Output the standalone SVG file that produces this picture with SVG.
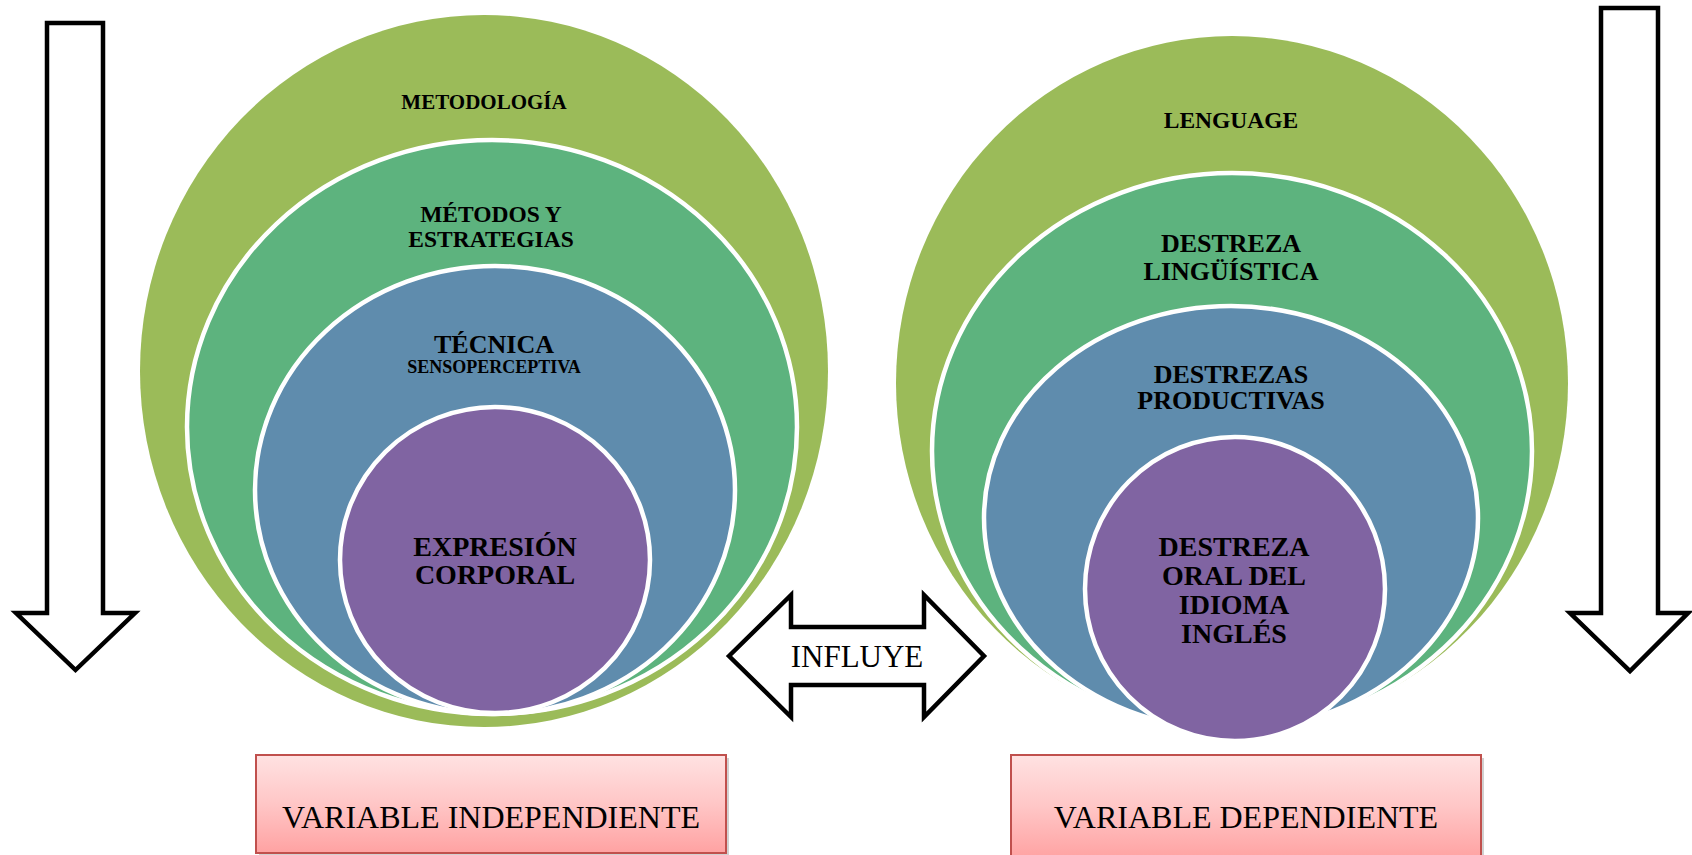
<svg xmlns="http://www.w3.org/2000/svg" width="1692" height="855" viewBox="0 0 1692 855">
<defs>
<linearGradient id="boxg" x1="0" y1="0" x2="0" y2="1">
<stop offset="0" stop-color="#FFE2E2"/>
<stop offset="0.5" stop-color="#FFC6C6"/>
<stop offset="1" stop-color="#FFA2A2"/>
</linearGradient>
<style>
.e1{fill:#9BBB59}
.e2{fill:#5DB37E;stroke:#fff;stroke-width:4.5}
.e3{fill:#5F8CAD;stroke:#fff;stroke-width:4.5}
.e4{fill:#8064A2;stroke:#fff;stroke-width:4.5}
.b{font-family:"Liberation Serif","Times New Roman",serif;font-weight:bold;fill:#000;text-anchor:middle}
.r{font-family:"Liberation Serif","Times New Roman",serif;fill:#000;text-anchor:middle}
.arr{fill:#fff;stroke:#000;stroke-width:4.5;stroke-linejoin:miter}
.box{fill:url(#boxg);stroke:#C0504D;stroke-width:2}
.shadow{fill:#000;opacity:0.18}
</style>
</defs>
<rect width="1692" height="855" fill="#fff"/>

<g id="connectors">
<path class="arr" d="M47,23 H103 V613 H135 L75.5,670 L16,613 H47 Z"/>
<path class="arr" d="M1601,8 H1658 V613 H1688 L1630,671 L1570,613 H1601 Z"/>
<path class="arr" d="M729,656 L791,595 V627 H924 V595 L984,656 L924,717 V685 H791 V717 Z"/>
</g>

<g id="left-metodologia">
<ellipse class="e1" cx="484" cy="371" rx="344" ry="356"/>
<text class="b" x="484" y="109" font-size="21">METODOLOGÍA</text>
</g>
<g id="left-metodos">
<ellipse class="e2" cx="492" cy="427" rx="305" ry="287"/>
<text class="b" x="491" y="222" font-size="23.5">MÉTODOS Y</text>
<text class="b" x="491" y="247" font-size="23.5">ESTRATEGIAS</text>
</g>
<g id="left-tecnica">
<ellipse class="e3" cx="495" cy="490" rx="240" ry="224"/>
<text class="b" x="494" y="353" font-size="26">TÉCNICA</text>
<text class="b" x="494" y="373" font-size="18">SENSOPERCEPTIVA</text>
</g>
<g id="left-expresion">
<ellipse class="e4" cx="495" cy="560" rx="155" ry="153"/>
<text class="b" x="495" y="556" font-size="28">EXPRESIÓN</text>
<text class="b" x="495" y="584" font-size="28">CORPORAL</text>
</g>

<g id="right-lenguage">
<ellipse class="e1" cx="1232" cy="383" rx="336" ry="347"/>
<text class="b" x="1231" y="128" font-size="23.5">LENGUAGE</text>
</g>
<g id="right-destreza-linguistica">
<ellipse class="e2" cx="1232" cy="451" rx="300" ry="278"/>
<text class="b" x="1231" y="252" font-size="26">DESTREZA</text>
<text class="b" x="1231" y="280" font-size="26">LINGÜÍSTICA</text>
</g>
<g id="right-destrezas-productivas">
<ellipse class="e3" cx="1231" cy="518" rx="247" ry="212"/>
<text class="b" x="1231" y="383" font-size="26">DESTREZAS</text>
<text class="b" x="1231" y="409" font-size="26">PRODUCTIVAS</text>
</g>
<g id="right-destreza-oral">
<ellipse class="e4" cx="1235" cy="589" rx="150" ry="152"/>
<text class="b" x="1234" y="556" font-size="28">DESTREZA</text>
<text class="b" x="1234" y="585" font-size="28">ORAL DEL</text>
<text class="b" x="1234" y="614" font-size="28">IDIOMA</text>
<text class="b" x="1234" y="643" font-size="28">INGLÉS</text>
</g>

<g id="influye">
<text class="r" x="857" y="667" font-size="31">INFLUYE</text>
</g>

<g id="var-independiente">
<rect class="shadow" x="259" y="758" width="470" height="98"/>
<rect class="box" x="256" y="755" width="470" height="98"/>
<text class="r" x="491" y="828" font-size="32">VARIABLE INDEPENDIENTE</text>
</g>
<g id="var-dependiente">
<rect class="shadow" x="1014" y="758" width="470" height="100"/>
<rect class="box" x="1011" y="755" width="470" height="104"/>
<text class="r" x="1246" y="828" font-size="32">VARIABLE DEPENDIENTE</text>
</g>
</svg>
